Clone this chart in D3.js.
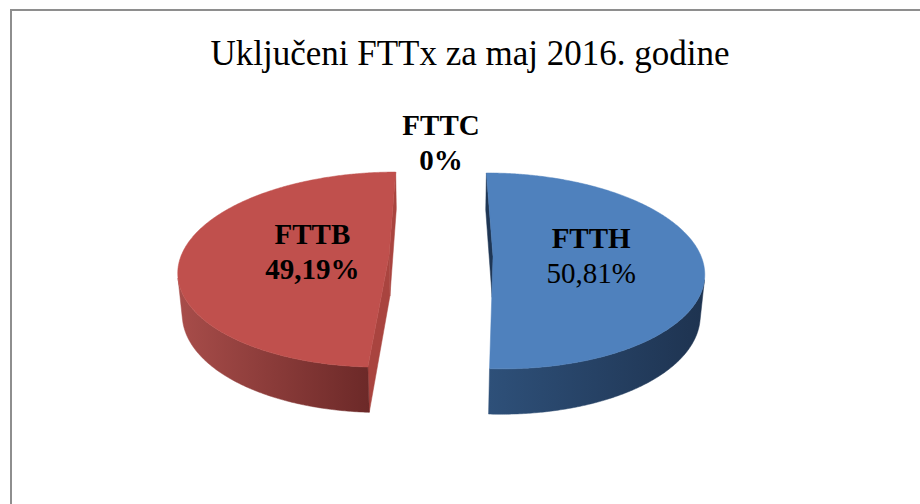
<!DOCTYPE html>
<html>
<head>
<meta charset="utf-8">
<script src="https://cdn.jsdelivr.net/npm/d3@7"></script>
<style>
  body { margin: 0; background: #fff; }
</style>
</head>
<body>
<div id="chart"></div>
<script>
// Podaci
const categories = ["FTTH", "FTTB", "FTTC"];
const values = [50.81, 49.19, 0];
const valueLabels = ["50,81%", "49,19%", "0%"];
const title = "Uključeni FTTx za maj 2016. godine";

// Boje (gornja ploha, bočni zid svijetlo/tamno, rez)
const topColors = ["#4f81bd", "#c0504d", "#9bbb59"];
const sideLight = ["#2e5079", "#a84d4a", "#76923c"];
const sideDark = ["#1e3350", "#6c2928", "#4f6228"];
const cutColors = ["#1f3654", "#a9443f", "#5f7530"];
const valueWeight = ["normal", "bold", "bold"];

const width = 920, height = 504;

const svg = d3.select("#chart")
    .append("svg")
    .attr("width", width)
    .attr("height", height)
    .style("font-family", "'Liberation Serif', 'Times New Roman', serif");

// okvir
svg.append("rect")
    .attr("x", 11)
    .attr("y", 10)
    .attr("width", width + 20)
    .attr("height", height + 20)
    .attr("fill", "none")
    .attr("stroke", "#8e8e8e")
    .attr("stroke-width", 2);

// naslov
svg.append("text")
    .attr("x", 470)
    .attr("y", 65)
    .attr("text-anchor", "middle")
    .style("font-size", "35px")
    .text(title);

// 3D projekcija (perspektiva)
const cx = 441, cy = 256;     // centar pite na ekranu
const R = 208;                // px po jedinici radijusa
const sinA = 0.46, cosA = Math.sqrt(1 - sinA * sinA);
const Dc = cosA / 0.146;      // udaljenost kamere
const H = 0.224;              // debljina pite
const explode = 0.25;
const cam = [0, Dc * sinA, -Dc * cosA];

function project(p) {
    const w = (Dc + p[2] * cosA - p[1] * sinA) / Dc;
    const up = p[1] * cosA + p[2] * sinA;
    return [cx + R * p[0] / w, cy - R * up / w];
}
function facing(n, p) {
    return n[0] * (cam[0] - p[0]) + n[1] * (cam[1] - p[1]) + n[2] * (cam[2] - p[2]) > 0;
}

const pie = d3.pie().sort(null).value(d => d)(values);
const line = d3.line().curve(d3.curveLinearClosed);
const defs = svg.append("defs");
const chart = svg.append("g");

pie.forEach((d, i) => {
    if (d.value === 0) return;
    const a0 = d.startAngle, a1 = d.endAngle, mid = (a0 + a1) / 2;
    const ox = explode * Math.sin(mid), oz = explode * Math.cos(mid);
    const n = Math.ceil((a1 - a0) / (Math.PI / 360));
    const angles = d3.range(n + 1).map(k => a0 + (a1 - a0) * k / n);
    const rim = (t, y) => [ox + Math.sin(t), y, oz + Math.cos(t)];
    const center = y => [ox, y, oz];
    const g = chart.append("g");

    // rezovi
    const cuts = [
        { pts: [center(0), rim(a0, 0), rim(a0, -H), center(-H)], n: [-Math.cos(a0), 0, Math.sin(a0)], t: a0 },
        { pts: [center(0), rim(a1, 0), rim(a1, -H), center(-H)], n: [Math.cos(a1), 0, -Math.sin(a1)], t: a1 }
    ].filter(c => facing(c.n, [ox + Math.sin(c.t) / 2, -H / 2, oz + Math.cos(c.t) / 2]))
     .sort((a, b) => Math.cos(b.t) - Math.cos(a.t));

    cuts.forEach(c => {
        g.append("path")
            .attr("d", line(c.pts.map(project)))
            .attr("fill", cutColors[i])
            .attr("stroke", cutColors[i])
            .attr("stroke-width", 0.5);
    });

    // bočni zid - vidljivi dijelovi
    const runs = [];
    let cur = null;
    for (let k = 0; k < n; k++) {
        const tm = (angles[k] + angles[k + 1]) / 2;
        const vis = facing([Math.sin(tm), 0, Math.cos(tm)], rim(tm, -H / 2));
        if (vis) {
            if (!cur) { cur = [k, k]; runs.push(cur); }
            cur[1] = k;
        } else cur = null;
    }
    runs.forEach(([k0, k1]) => {
        const ts = angles.slice(k0, k1 + 2);
        const pts = ts.map(t => project(rim(t, 0)))
            .concat(ts.slice().reverse().map(t => project(rim(t, -H))));
        const [xMin, xMax] = d3.extent(pts, p => p[0]);
        const gid = `side-${i}-${k0}`;
        const grad = defs.append("linearGradient")
            .attr("id", gid)
            .attr("gradientUnits", "userSpaceOnUse")
            .attr("x1", xMin).attr("x2", xMax)
            .attr("y1", 0).attr("y2", 0);
        grad.append("stop").attr("offset", 0).attr("stop-color", sideLight[i]);
        grad.append("stop").attr("offset", 1).attr("stop-color", sideDark[i]);
        g.append("path")
            .attr("d", line(pts))
            .attr("fill", `url(#${gid})`)
            .attr("stroke", `url(#${gid})`)
            .attr("stroke-width", 0.5);
    });

    // gornja ploha
    const topPts = [project(center(0))].concat(angles.map(t => project(rim(t, 0))));
    g.append("path")
        .attr("d", line(topPts))
        .attr("fill", topColors[i])
        .attr("stroke", topColors[i])
        .attr("stroke-width", 0.5);
});

// natpisi
const labelR = [0.47, 0.37, 1.39];
pie.forEach((d, i) => {
    const mid = (d.startAngle + d.endAngle) / 2;
    const e = d.value === 0 ? 0 : explode;
    const r = labelR[i];
    const [lx, ly] = project([(e + r) * Math.sin(mid), 0, (e + r) * Math.cos(mid)]);
    const t = svg.append("text")
        .attr("text-anchor", "middle")
        .style("font-size", "29px")
        .attr("fill", "#000");
    t.append("tspan")
        .attr("x", lx)
        .attr("y", ly - 10)
        .style("font-weight", "bold")
        .text(categories[i]);
    t.append("tspan")
        .attr("x", lx)
        .attr("y", ly + 25)
        .style("font-weight", valueWeight[i])
        .text(valueLabels[i]);
});
</script>
</body>
</html>
